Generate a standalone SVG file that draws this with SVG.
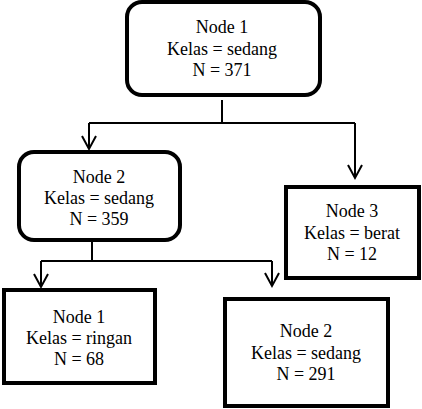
<svg xmlns="http://www.w3.org/2000/svg" width="422" height="409" viewBox="0 0 422 409">
<style>
.box{fill:#fff;stroke:#000;stroke-width:4}
text{font-family:'Liberation Serif','Times New Roman',serif;font-size:18px;text-anchor:middle;fill:#000}
.c{fill:none;stroke:#000;stroke-width:2}
</style>
<rect width="422" height="409" fill="#fff"/>
<g id="connectors" class="c">
<path d="M222 100V123M89 123H355M89 123V149M355 123V178"/>
<path d="M82 136L89 149L96 136M348 165L355 178L362 165"/>
<path d="M92 242V261M41 261H272M41 261V287M272 261V286"/>
<path d="M34 274L41 287L48 274M265 273L272 286L279 273"/>
</g>
<g id="node1">
<rect class="box" x="127" y="2" width="193" height="93" rx="15"/>
<text x="222" y="33">Node 1</text>
<text x="222" y="55">Kelas = sedang</text>
<text x="222" y="76">N = 371</text>
</g>
<g id="node2">
<rect class="box" x="19" y="152" width="161" height="88" rx="15"/>
<text x="99" y="183">Node 2</text>
<text x="99" y="204">Kelas = sedang</text>
<text x="99" y="225">N = 359</text>
</g>
<g id="node3">
<rect class="box" x="286" y="187" width="133" height="91"/>
<text x="352" y="217">Node 3</text>
<text x="352" y="239">Kelas = berat</text>
<text x="352" y="260">N = 12</text>
</g>
<g id="node1b">
<rect class="box" x="4" y="290" width="151" height="93"/>
<text x="79" y="323">Node 1</text>
<text x="79" y="344">Kelas = ringan</text>
<text x="79" y="365">N = 68</text>
</g>
<g id="node2b">
<rect class="box" x="225" y="299" width="163" height="107"/>
<text x="306" y="337">Node 2</text>
<text x="306" y="359">Kelas = sedang</text>
<text x="306" y="380">N = 291</text>
</g>
</svg>
